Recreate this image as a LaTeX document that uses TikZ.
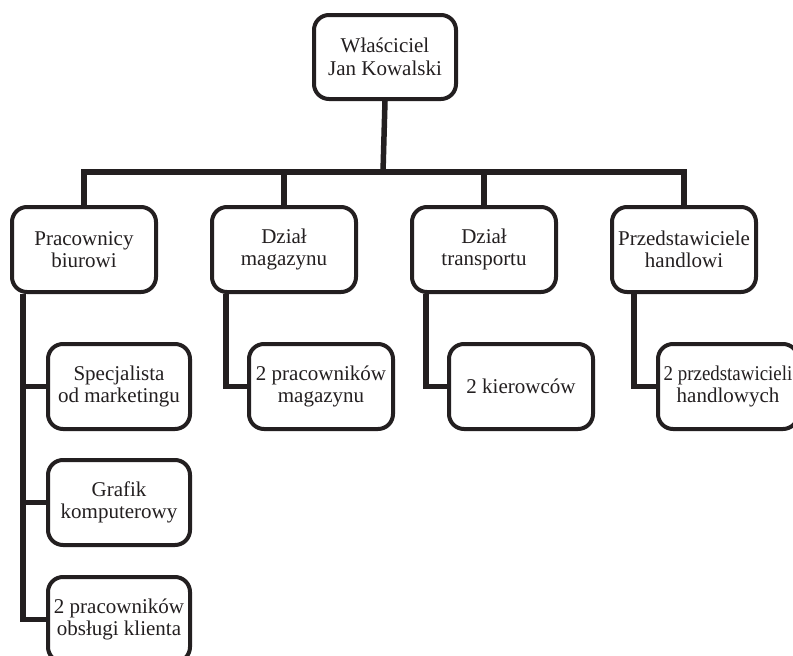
\documentclass[tikz,border=0pt]{standalone}
\usepackage{fontspec}
\setmainfont{Liberation Serif}
\definecolor{ink}{HTML}{231F20}
\begin{document}
\begin{tikzpicture}[x=1pt,y=-1pt,
  box/.style={draw=ink, line width=4pt, rounded corners=15pt, fill=white,
    minimum width=144pt, minimum height=85pt, inner sep=0pt, anchor=north west,
    align=center, text=ink, font=\fontsize{21}{22.5}\selectfont},
  conn/.style={draw=ink, line width=5.5pt}]
\useasboundingbox (0,0) rectangle (793,656);
\clip (0,0) rectangle (793,656);
\fill[white] (0,0) rectangle (793,656);
% top
\node[box, minimum width=142pt, minimum height=84pt] (top) at (312,13) {Właściciel\\Jan Kowalski};
% level 2
\node[box] (p1) at (10,205) {Pracownicy\\biurowi};
\node[box] (p2) at (210,205) {Dział\\magazynu};
\node[box] (p3) at (410,205) {Dział\\transportu};
\node[box] (p4) at (610,205) {Przedstawiciele\\handlowi};
% level 3
\node[box, minimum width=142pt] (s1a) at (46,342) {Specjalista\\od marketingu};
\node[box, minimum width=142pt] (s1b) at (46,458) {Grafik\\komputerowy};
\node[box, minimum width=142pt] (s1c) at (46,575) {2 pracowników\\obsługi klienta};
\node[box] (s2) at (247,342) {2 pracowników\\magazynu};
\node[box] (s3) at (447,342) {2 kierowców};
\node[box, minimum width=140pt] (s4) at (656,342) {\scalebox{0.9}[1]{2 przedstawicieli}\\handlowych};
% connectors
\coordinate (bar) at (383,172);
\draw[conn] (top.south) -- (bar);
\draw[conn] (p1.north) |- (bar) -| (p4.north);
\draw[conn] (p2.north) -- (p2.north |- bar);
\draw[conn] (p3.north) -- (p3.north |- bar);
\draw[conn] ([xshift=13pt]p1.south west) |- (s1a.west);
\draw[conn] ([xshift=13pt]p1.south west) |- (s1b.west);
\draw[conn] ([xshift=13pt]p1.south west) |- (s1c.west);
\draw[conn] ([xshift=16pt]p2.south west) |- (s2.west);
\draw[conn] ([xshift=16pt]p3.south west) |- (s3.west);
\draw[conn] ([xshift=24pt]p4.south west) |- (s4.west);
\end{tikzpicture}
\end{document}
